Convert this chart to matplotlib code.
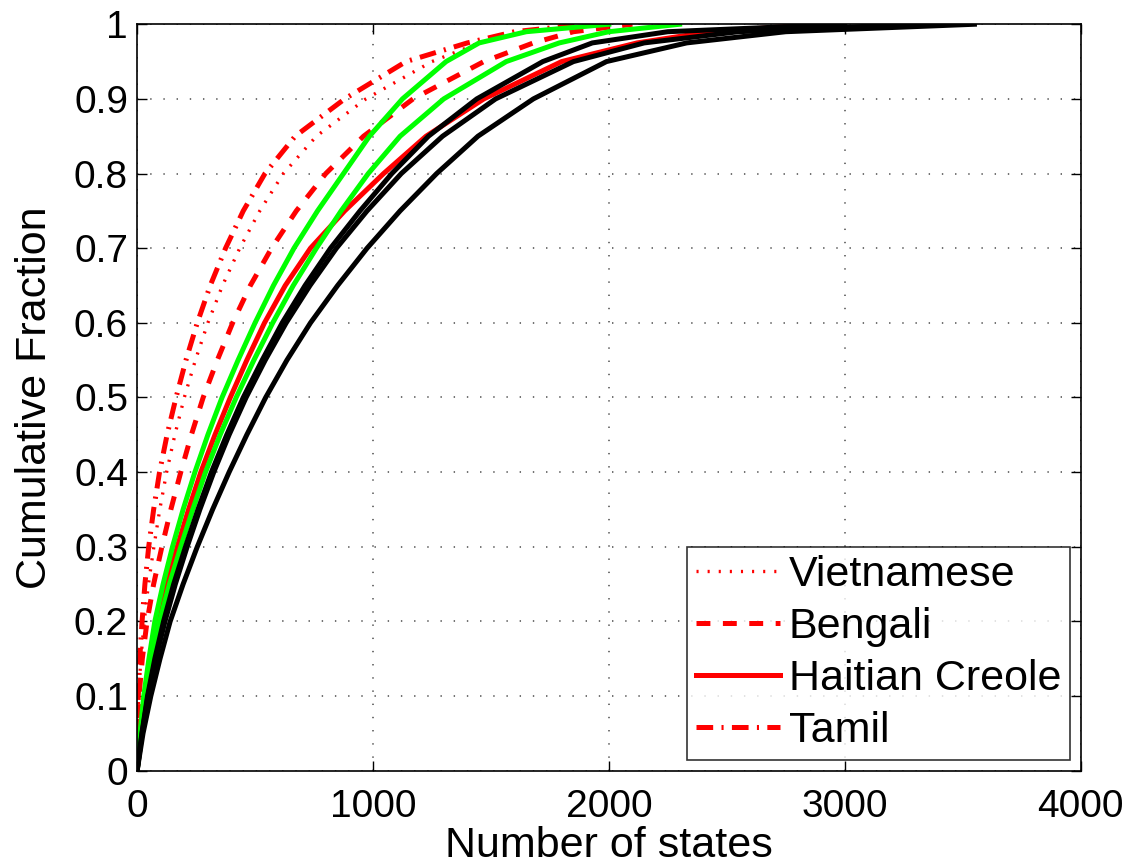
import numpy as np
import matplotlib
import matplotlib.pyplot as plt

matplotlib.rc("font", family=['Liberation Sans', 'DejaVu Sans'])
plt.rcParams['lines.scale_dashes'] = False

# CDF 曲线读数: 每条曲线在各累计比例 y 处的状态数 x
cdf_y = [0, 0.05, 0.1, 0.15, 0.2, 0.25, 0.3, 0.35, 0.4, 0.45, 0.5, 0.55, 0.6,
         0.65, 0.7, 0.75, 0.8, 0.85, 0.9, 0.95, 0.975, 0.99, 1.0]

viet_x = [0, 2, 6, 16, 30, 48, 71, 96, 125, 160, 200, 247, 300,
          362, 435, 520, 620, 760, 970, 1250, 1450, 1650, 1950]
beng_x = [0, 3, 8, 22, 42, 70, 105, 143, 185, 230, 280, 340, 405,
          480, 570, 675, 800, 960, 1170, 1470, 1680, 1850, 2100]
hait_x = [0, 14, 33, 58, 88, 126, 170, 218, 270, 330, 395, 465, 540,
          628, 735, 880, 1045, 1225, 1470, 1800, 2120, 2430, 2900]
tamil_x = [0, 1, 5, 11, 21, 33, 49, 70, 95, 127, 165, 207, 255,
           310, 375, 450, 542, 670, 880, 1140, 1400, 1600, 1900]
green1_x = [0, 12, 28, 50, 75, 110, 150, 195, 245, 300, 360, 428, 500,
            578, 665, 765, 875, 985, 1125, 1310, 1450, 1650, 2000]
green2_x = [0, 15, 35, 62, 95, 137, 185, 236, 290, 352, 420, 495, 575,
            662, 760, 865, 980, 1115, 1300, 1565, 1790, 2000, 2300]
blackA_x = [0, 20, 44, 75, 112, 155, 205, 258, 315, 380, 450, 530, 615,
            712, 820, 945, 1080, 1235, 1440, 1720, 1930, 2250, 3000]
blackB_x = [0, 21, 46, 79, 118, 162, 212, 266, 325, 390, 462, 543, 632,
            733, 845, 975, 1120, 1295, 1520, 1850, 2150, 2550, 3300]
blackC_x = [0, 25, 58, 97, 140, 195, 255, 320, 390, 465, 545, 635, 735,
            850, 975, 1115, 1270, 1445, 1680, 1990, 2330, 2750, 3550]

legend_labels = ['Vietnamese', 'Bengali', 'Haitian Creole', 'Tamil']
x_ticks = [0, 1000, 2000, 3000, 4000]
y_ticks = [0, 0.1, 0.2, 0.3, 0.4, 0.5, 0.6, 0.7, 0.8, 0.9, 1.0]
y_ticklabels = ['0', '0.1', '0.2', '0.3', '0.4', '0.5', '0.6', '0.7', '0.8', '0.9', '1']

fig = plt.figure(figsize=(11.38, 8.66), dpi=100)
ax = fig.add_axes([0.1205, 0.110, 0.829, 0.862])

lw = 3.6
ax.plot(viet_x, cdf_y, color='r', lw=2.4, linestyle=(0, (1.5, 6.5)), label=legend_labels[0])
ax.plot(beng_x, cdf_y, color='r', lw=lw, linestyle=(0, (10, 9)), label=legend_labels[1])
ax.plot(hait_x, cdf_y, color='r', lw=lw, label=legend_labels[2])
ax.plot(tamil_x, cdf_y, color='r', lw=lw, linestyle=(0, (12, 6, 1.5, 6)), label=legend_labels[3])
ax.plot(green1_x, cdf_y, color='#00ff00', lw=lw)
ax.plot(green2_x, cdf_y, color='#00ff00', lw=lw)
ax.plot(blackA_x, cdf_y, color='k', lw=lw)
ax.plot(blackB_x, cdf_y, color='k', lw=lw)
ax.plot(blackC_x, cdf_y, color='k', lw=lw)

ax.set_xlim(0, 4000)
ax.set_ylim(0, 1)
ax.set_xticks(x_ticks)
ax.set_yticks(y_ticks)
ax.set_yticklabels(y_ticklabels)
ax.tick_params(direction='in', length=7, width=1, top=True, right=True, labelsize=28)
ax.tick_params(axis='y', pad=6.5)
ax.tick_params(axis='x', pad=13)
ax.grid(True, color='0.35', linestyle=(0, (1, 8.5)), linewidth=1.2)
for s in ax.spines.values():
    s.set_linewidth(1.2)

ax.set_xlabel('Number of states', fontsize=31, labelpad=1)
ax.set_ylabel('Cumulative Fraction', fontsize=31, labelpad=14)

leg = ax.legend(loc='lower right', fontsize=31, frameon=True, fancybox=False,
                borderaxespad=0.25, handlelength=1.95, handletextpad=0.2,
                labelspacing=0.28, borderpad=0.2)
leg.get_frame().set_edgecolor('k')
leg.get_frame().set_linewidth(1.2)

plt.savefig('out.png', dpi=100)
